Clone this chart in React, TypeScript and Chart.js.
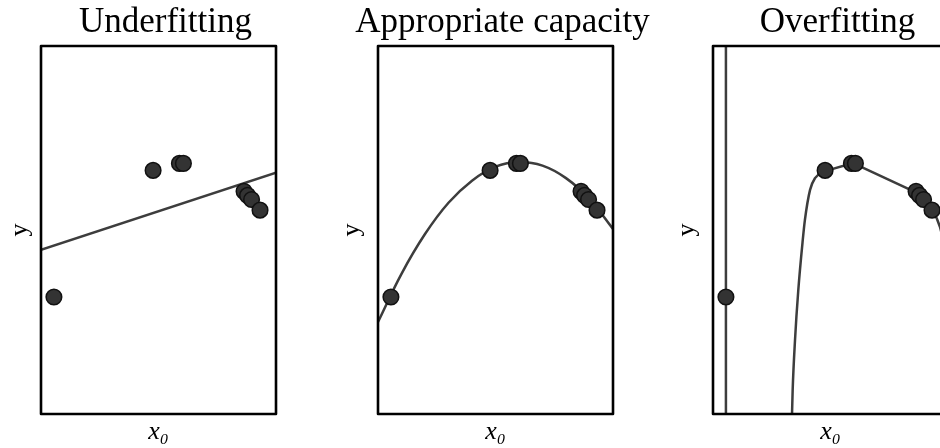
import React, { useEffect, useRef } from "react";
import { Chart, registerables } from "chart.js";

Chart.register(...registerables);

// ---- text ----
const panelTitles = ["Underfitting", "Appropriate capacity", "Overfitting"];
const xAxisLabel = "x₀";
const yAxisLabel = "y";

// ---- training points (same set in every panel), axes normalised 0..1 ----
const trainX = [0.055, 0.477, 0.589, 0.606, 0.864, 0.879, 0.896, 0.932];
const trainY = [0.318, 0.662, 0.681, 0.681, 0.605, 0.594, 0.583, 0.554];

// ---- underfitting: linear fit ----
const linearFitX = [0, 1];
const linearFitY = [0.446, 0.656];

// ---- appropriate capacity: quadratic fit ----
const quadFitX = [0, 0.1, 0.2, 0.3, 0.4, 0.5, 0.6, 0.7, 0.8, 0.9, 1.0];
const quadFitY = [0.25, 0.381, 0.489, 0.574, 0.634, 0.672, 0.685, 0.675, 0.641, 0.584, 0.503];

// ---- overfitting: high degree fit ----
const highRiseX = [0.3355, 0.339, 0.349, 0.363, 0.382, 0.391, 0.413, 0.434, 0.477];
const highRiseY = [-0.02, 0.065, 0.201, 0.337, 0.473, 0.527, 0.609, 0.641, 0.66];
const highTopX = [0.477, 0.596, 0.868, 0.932, 0.952, 0.966, 0.983, 1.0];
const highTopY = [0.66, 0.682, 0.601, 0.557, 0.532, 0.508, 0.465, 0.41];
const spikeX = [0.055, 0.055];
const spikeY = [-0.1, 1.1];

type Curve = { xs: number[]; ys: number[]; mode: "linear" | "spline" | "monotone" };

const zip = (xs: number[], ys: number[]) => xs.map((x, i) => ({ x, y: ys[i] }));

const SERIF = "'Liberation Serif', 'DejaVu Serif', serif";

const framePlugin = {
  id: "frame",
  afterDraw(chart: any) {
    const { ctx, chartArea } = chart;
    ctx.save();
    ctx.strokeStyle = "#000";
    ctx.lineWidth = 2.6;
    ctx.lineJoin = "round";
    ctx.strokeRect(chartArea.left, chartArea.top, chartArea.right - chartArea.left, chartArea.bottom - chartArea.top);
    ctx.restore();
  },
};

function Panel({ title, curves, left, yPad }: { title: string; curves: Curve[]; left: number; yPad: number }) {
  const ref = useRef<HTMLCanvasElement | null>(null);
  useEffect(() => {
    if (!ref.current) return;
    const chart = new Chart(ref.current, {
      type: "scatter",
      data: {
        datasets: [
          {
            data: zip(trainX, trainY),
            showLine: false,
            pointRadius: 7.8,
            pointBackgroundColor: "#333333",
            pointBorderColor: "#111111",
            pointBorderWidth: 1.5,
          } as any,
          ...curves.map((c) => ({
            data: zip(c.xs, c.ys),
            showLine: true,
            pointRadius: 0,
            borderColor: "#3d3d3d",
            borderWidth: 2.5,
            borderJoinStyle: "round",
            cubicInterpolationMode: c.mode === "monotone" ? "monotone" : "default",
            tension: c.mode === "spline" ? 0.4 : 0,
          })),
        ],
      },
      options: {
        animation: false,
        responsive: false,
        devicePixelRatio: 1,
        layout: { padding: 0 },
        plugins: {
          legend: { display: false },
          tooltip: { enabled: false },
          title: {
            display: true,
            text: title,
            color: "#000",
            font: { family: SERIF, size: 35, weight: "normal", lineHeight: 1.2 },
            padding: { top: 2, bottom: 2 },
          },
        },
        scales: {
          x: {
            type: "linear",
            min: 0,
            max: 1,
            position: "bottom",
            grid: { display: false, drawTicks: false },
            border: { display: false },
            ticks: { display: false },
            title: {
              display: true,
              text: xAxisLabel,
              color: "#000",
              font: { family: SERIF, size: 26, style: "italic", lineHeight: 1.2 },
              padding: { top: 2.8, bottom: 0 },
            },
          },
          y: {
            type: "linear",
            min: 0,
            max: 1,
            position: "left",
            grid: { display: false, drawTicks: false },
            border: { display: false },
            ticks: { display: false },
            title: {
              display: true,
              text: yAxisLabel,
              color: "#000",
              font: { family: SERIF, size: 26, lineHeight: 1.2 },
              padding: { top: yPad, bottom: 41 - 31.2 - yPad },
            },
          },
          y2: {
            type: "linear",
            position: "right",
            display: true,
            grid: { display: false, drawTicks: false },
            border: { display: false },
            ticks: { display: false },
            title: {
              display: true,
              text: "",
              font: { size: 10, lineHeight: 1 },
              padding: { top: 0, bottom: 45 },
            },
          },
        },
      } as any,
      plugins: [framePlugin],
    });
    return () => chart.destroy();
  }, []);
  return (
    <canvas
      ref={ref}
      width={331}
      height={448}
      style={{ position: "absolute", left, top: 0, width: 331, height: 448 }}
    />
  );
}

export default function App() {
  return (
    <div
      style={{
        position: "fixed",
        left: 0,
        top: 0,
        width: 940,
        height: 448,
        overflow: "hidden",
        background: "#fff",
      }}
    >
      <Panel title={panelTitles[0]} left={0} yPad={4.4} curves={[{ xs: linearFitX, ys: linearFitY, mode: "linear" }]} />
      <Panel title={panelTitles[1]} left={337} yPad={-0.1} curves={[{ xs: quadFitX, ys: quadFitY, mode: "spline" }]} />
      <Panel
        title={panelTitles[2]}
        left={672}
        yPad={-0.1}
        curves={[
          { xs: spikeX, ys: spikeY, mode: "linear" },
          { xs: highRiseX, ys: highRiseY, mode: "monotone" },
          { xs: highTopX, ys: highTopY, mode: "linear" },
        ]}
      />
    </div>
  );
}
